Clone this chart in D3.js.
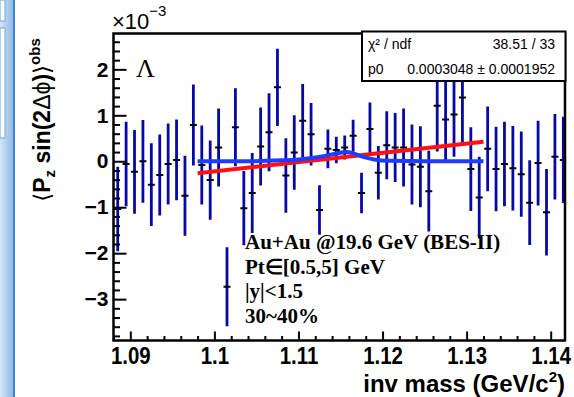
<!DOCTYPE html>
<html><head><meta charset="utf-8">
<script src="https://cdn.jsdelivr.net/npm/d3@7"></script>
<style>body{margin:0;background:#fff;} svg{display:block}</style>
</head><body>
<svg id="c" width="574" height="397"></svg>
<script>
// ---- data (values in units of 1e-3) ----
const binCenters = [
 1.0885,1.0895,1.0905,1.0915,1.0925,1.0935,1.0945,1.0955,1.0965,1.0975,
 1.0985,1.0995,1.1005,1.1015,1.1025,1.1035,1.1045,1.1055,1.1065,1.1075,
 1.1085,1.1095,1.1105,1.1115,1.1125,1.1135,1.1145,1.1155,1.1165,1.1175,
 1.1185,1.1195,1.1205,1.1215,1.1225,1.1235,1.1245,1.1255,1.1265,1.1275,
 1.1285,1.1295,1.1305,1.1315,1.1325,1.1335,1.1345,1.1355,1.1365,1.1375,
 1.1385,1.1395,1.1405,1.1415];
const values = [
 -1.04,-0.06,-0.23,0.00,-0.51,-0.30,-0.06,0.03,-0.75,0.79,
 -0.08,-0.41,0.30,-2.73,0.74,-1.02,-0.69,0.32,0.63,1.61,
 -0.31,0.19,0.88,0.59,-1.06,0.27,0.245,0.30,0.555,-0.69,
 0.70,-0.25,0.35,0.30,0.30,-0.07,-0.12,-0.65,1.21,0.91,
 1.02,1.39,-0.17,-0.79,0.27,-0.17,-0.06,-0.15,-0.28,-0.90,
 -0.04,-1.11,0.10,0.03];
const errors = [
 0.92,0.92,0.91,0.90,0.90,0.88,0.88,0.88,0.87,0.88,
 0.86,0.86,0.85,0.86,0.85,0.81,0.87,0.85,0.85,0.84,
 0.81,0.81,0.80,0.68,0.54,0.42,0.29,0.26,0.35,0.44,
 0.58,0.58,0.74,0.75,0.85,0.87,0.88,0.88,1.00,0.88,
 0.92,1.00,0.91,0.89,0.92,0.92,0.92,0.92,0.93,0.92,
 0.92,0.94,0.93,0.94];
const redFitMass = [1.098, 1.132];
const redFitVal  = [-0.26, 0.425];
const blueFitMass = [1.098,1.104,1.108,1.110,1.112,1.1135,1.1148,1.1157,1.1167,1.1178,1.119,1.121,1.125,1.132];
const blueFitVal  = [0.0, 0.0, 0.02, 0.04, 0.08, 0.13, 0.18, 0.20, 0.16, 0.09, 0.04, 0.01, 0.0, 0.0];
const xTicks = [1.09,1.10,1.11,1.12,1.13,1.14];
const xTickLabels = ["1.09","1.1","1.11","1.12","1.13","1.14"];
const yTicks = [-3,-2,-1,0,1,2];
const yTickLabels = ["\u22123","\u22122","\u22121","0","1","2"];
const legendLines = ["Au+Au @19.6 GeV (BES-II)","Pt\u2208[0.5,5] GeV","|y|<1.5","30~40%"];
const statsRows = [["\u03c7\u00b2 / ndf","38.51 / 33"],["p0","0.0003048 \u00b1 0.0001952"]];

// ---- layout ----
const L=113.5, R=565, T=33.5, B=340.5;
const svg = d3.select("#c");
const x = d3.scaleLinear().domain([1.088,1.1417]).range([L,R]);
const y = d3.scaleLinear().domain([-3.9,2.78]).range([B,T]);
const sans = "'Liberation Sans', Arial, Helvetica, sans-serif";
const serif = "'Liberation Serif', 'Times New Roman', serif";

// left window decoration
const defs = svg.append("defs");
const gr = defs.append("linearGradient").attr("id","lg").attr("x1","0").attr("x2","1");
gr.append("stop").attr("offset","0").attr("stop-color","#d4e5f6");
gr.append("stop").attr("offset","1").attr("stop-color","#8fb9e6");
svg.append("rect").attr("x",0).attr("y",0).attr("width",13).attr("height",397).attr("fill","url(#lg)");
svg.append("rect").attr("x",13).attr("y",0).attr("width",2).attr("height",397).attr("fill","#3a86d6");
svg.append("rect").attr("x",0).attr("y",0).attr("width",5).attr("height",21).attr("fill","#fff").attr("stroke","#6aa5e0");
svg.append("rect").attr("x",0).attr("y",28).attr("width",5).attr("height",110).attr("fill","#fff").attr("stroke","#6aa5e0");

const clip = defs.append("clipPath").attr("id","pc");
clip.append("rect").attr("x",L).attr("y",T).attr("width",R-L).attr("height",B-T);

const plot = svg.append("g").attr("clip-path","url(#pc)");
const pts = binCenters.map((m,i)=>({m, v:values[i], e:errors[i]}));
plot.selectAll("line.err").data(pts).join("line").attr("class","err")
  .attr("x1",d=>x(d.m)).attr("x2",d=>x(d.m))
  .attr("y1",d=>y(d.v+d.e)).attr("y2",d=>y(d.v-d.e))
  .attr("stroke","#0808a6").attr("stroke-width",2.8);
plot.selectAll("line.mk").data(pts).join("line").attr("class","mk")
  .attr("x1",d=>x(d.m)-3.5).attr("x2",d=>x(d.m)+3.5)
  .attr("y1",d=>y(d.v)).attr("y2",d=>y(d.v))
  .attr("stroke","#000").attr("stroke-width",2);

const redPts = redFitMass.map((m,i)=>[m,redFitVal[i]]);
const bluePts = blueFitMass.map((m,i)=>[m,blueFitVal[i]]);
const lineGen = d3.line().x(d=>x(d[0])).y(d=>y(d[1]));
plot.append("path").attr("d",lineGen(redPts)).attr("fill","none").attr("stroke","#ff1010").attr("stroke-width",4);
plot.append("path").attr("d",lineGen.curve(d3.curveMonotoneX)(bluePts)).attr("fill","none").attr("stroke","#1e3cff").attr("stroke-width",4);

// axes (ticks inward)
const xMinor = d3.range(1.088,1.1415,0.002).filter(v=>!xTicks.some(t=>Math.abs(t-v)<1e-6));
const yMinor = d3.range(-3.8,2.7,0.2).filter(v=>!yTicks.some(t=>Math.abs(t-v)<1e-6));
svg.append("g").attr("transform",`translate(0,${B})`)
  .call(d3.axisBottom(x).tickValues(xMinor).tickSizeInner(-4.5).tickSizeOuter(0).tickFormat(""))
  .call(g=>g.select(".domain").remove()).selectAll("line").attr("stroke","#000").attr("stroke-width",2);
const xa = svg.append("g").attr("transform",`translate(0,${B})`)
  .call(d3.axisBottom(x).tickValues(xTicks).tickSizeInner(-9).tickSizeOuter(0).tickPadding(6.5)
    .tickFormat((d,i)=>xTickLabels[i]));
xa.select(".domain").remove();
xa.selectAll("line").attr("stroke","#000").attr("stroke-width",2);
xa.selectAll("text").attr("font-family",sans).attr("font-weight","bold").attr("font-size",24)
  .attr("fill","#000").attr("transform","scale(0.85,1)");

svg.append("g").attr("transform",`translate(${L},0)`)
  .call(d3.axisLeft(y).tickValues(yMinor).tickSizeInner(-6.5).tickSizeOuter(0).tickFormat(""))
  .call(g=>g.select(".domain").remove()).selectAll("line").attr("stroke","#000").attr("stroke-width",2);
const ya = svg.append("g").attr("transform",`translate(${L},0)`)
  .call(d3.axisLeft(y).tickValues(yTicks).tickSizeInner(-13).tickSizeOuter(0).tickPadding(5)
    .tickFormat((d,i)=>yTickLabels[i]));
ya.select(".domain").remove();
ya.selectAll("line").attr("stroke","#000").attr("stroke-width",2);
ya.selectAll("text").attr("font-family",sans).attr("font-weight","bold").attr("font-size",21).attr("fill","#000");

// frame
svg.append("rect").attr("x",L).attr("y",T).attr("width",R-L).attr("height",B-T)
  .attr("fill","none").attr("stroke","#000").attr("stroke-width",2.5);

// exponent
const ex = svg.append("text").attr("x",112).attr("y",28.5).attr("font-family",sans).attr("font-size",22).attr("fill","#000");
ex.append("tspan").text("\u00d710");
ex.append("tspan").attr("dy",-13).attr("font-size",15).text("\u22123");

// Lambda
svg.append("text").attr("x",136).attr("y",77).attr("font-family",serif).attr("font-size",26).attr("fill","#000").text("\u039b");

// stats box
svg.append("rect").attr("x",362).attr("y",31.5).attr("width",203.5).attr("height",49.5)
  .attr("fill","#fff").attr("stroke","#000").attr("stroke-width",2);
statsRows.forEach((r,i)=>{
  const by = 49 + i*24.5;
  svg.append("text").attr("x",368).attr("y",by).attr("font-family",sans).attr("font-size",14).attr("fill","#000").text(r[0]);
  svg.append("text").attr("x",555).attr("y",by).attr("text-anchor","end").attr("font-family",sans).attr("font-size",14).attr("fill","#000").text(r[1]);
});

// legend text
legendLines.forEach((t,i)=>{
  svg.append("text").attr("x",245).attr("y",249+i*24.6).attr("font-family",serif).attr("font-weight","bold")
    .attr("font-size",21).attr("fill","#000").text(t);
});

// axis titles
const xt = svg.append("text").attr("x",565).attr("y",392).attr("text-anchor","end")
  .attr("font-family",sans).attr("font-weight","bold").attr("font-size",24).attr("fill","#000");
xt.append("tspan").text("inv mass (GeV/c");
xt.append("tspan").attr("dy",-10).attr("font-size",15).text("2");
xt.append("tspan").attr("dy",10).text(")");

const yt = svg.append("text").attr("transform","translate(50,120) rotate(-90)").attr("text-anchor","middle")
  .attr("font-family",sans).attr("font-weight","bold").attr("font-size",23).attr("fill","#000");
yt.append("tspan").attr("font-weight","normal").attr("font-family","'DejaVu Sans', sans-serif").text("\u27e8");
yt.append("tspan").text("P");
yt.append("tspan").attr("dy",5).attr("font-size",15).text("z");
yt.append("tspan").attr("dy",-5).text(" sin(2");
yt.append("tspan").attr("font-weight","normal").text("\u0394\u03d5");
yt.append("tspan").text(")");
yt.append("tspan").attr("font-weight","normal").attr("font-family","'DejaVu Sans', sans-serif").text("\u27e9");
yt.append("tspan").attr("dy",-10).attr("font-size",15).text("obs");
</script>
</body></html>
